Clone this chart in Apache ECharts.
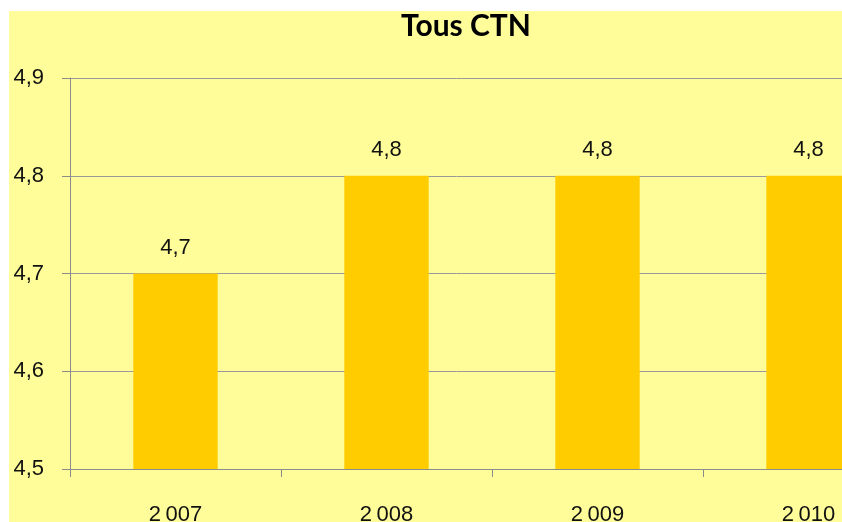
<!DOCTYPE html>
<html><head><meta charset="utf-8">
<script src="https://cdn.jsdelivr.net/npm/echarts@6/dist/echarts.min.js"></script>
<style>html,body{margin:0;padding:0;background:#fff}#c{width:842px;height:522px}</style>
</head><body><div id="c"></div>
<script>
const categories = ['2\u2009007', '2\u2009008', '2\u2009009', '2\u2009010'];
const values = [4.7, 4.8, 4.8, 4.8];
const valueLabels = ['4,7', '4,8', '4,8', '4,8'];
const yTicks = [4.5, 4.6, 4.7, 4.8, 4.9];

const chart = echarts.init(document.getElementById('c'));
chart.setOption({
  animation: false,
  backgroundColor: '#ffffff',
  graphic: [{type: 'rect', z: -10, shape: {x: 9, y: 11, width: 840, height: 520}, style: {fill: '#FFFD99'}}],
  title: {text: 'Tous CTN', left: 461, top: 6, textAlign: 'center',
    textStyle: {fontFamily: 'Lato', fontWeight: 'bold', fontSize: 30, color: '#000'}},
  grid: {left: 70, top: 78, width: 844, height: 391, outerBoundsMode: 'none', containLabel: false},
  xAxis: {type: 'category', data: categories,
    axisLine: {lineStyle: {color: '#8c8c8c', width: 1}},
    axisTick: {show: true, length: 8, alignWithLabel: false, lineStyle: {color: '#8c8c8c'}},
    axisLabel: {margin: 35, fontFamily: 'Liberation Sans', fontSize: 22, color: '#111'}},
  yAxis: {type: 'value', min: 4.5, max: 4.9, interval: 0.1,
    axisLine: {show: true, lineStyle: {color: '#8c8c8c', width: 1}},
    axisTick: {show: true, length: 8, lineStyle: {color: '#8c8c8c'}},
    splitLine: {lineStyle: {color: '#9a9a9a', width: 1}},
    axisLabel: {margin: 26, fontFamily: 'Liberation Sans', fontSize: 22, color: '#111',
      formatter: v => v.toFixed(1).replace('.', ',')}},
  series: [{type: 'bar', data: values, barWidth: '40%',
    itemStyle: {color: '#FFCC00'},
    label: {show: true, position: 'top', distance: 15, fontFamily: 'Liberation Sans', fontSize: 22, color: '#111',
      formatter: p => valueLabels[p.dataIndex]}}]
});
</script></body></html>
